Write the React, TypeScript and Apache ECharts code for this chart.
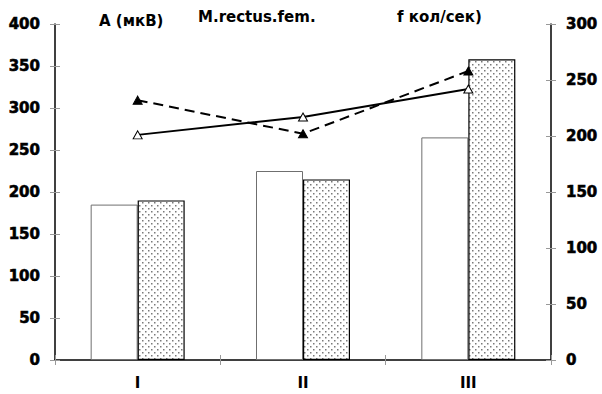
import React, { useEffect, useRef } from "react";
import * as echarts from "echarts";

// Categories and measured values
const categories = ["I", "II", "III"];
const amplitudeOpen = [185, 225, 265]; // A (мкВ), plain bars
const amplitudeDotted = [190, 215, 358]; // A (мкВ), dotted bars
const frequencySolid = [201, 217, 242]; // f кол/сек, solid line
const frequencyDashed = [232, 202, 258]; // f кол/сек, dashed line

// Axis ranges
const leftAxisRange = [0, 400];
const leftAxisStep = 50;
const rightAxisRange = [0, 300];
const rightAxisStep = 50;

// Header texts
const titleLeft = "A (мкВ)";
const titleMiddle = "M.rectus.fem.";
const titleRight = "f кол/сек)";

const FONT = "DejaVu Sans";

function makeDotPattern(): HTMLCanvasElement {
  const c = document.createElement("canvas");
  c.width = 6;
  c.height = 6;
  const ctx = c.getContext("2d")!;
  ctx.fillStyle = "#ffffff";
  ctx.fillRect(0, 0, 6, 6);
  ctx.fillStyle = "#7a7a7a";
  ctx.fillRect(1, 1, 1.5, 1.5);
  ctx.fillRect(4, 4, 1.5, 1.5);
  return c;
}

export default function App() {
  const ref = useRef<HTMLDivElement>(null);

  useEffect(() => {
    if (!ref.current) return;
    const chart = echarts.init(ref.current, undefined, { renderer: "svg" });
    const dots = makeDotPattern();

    const labelStyle = {
      fontFamily: FONT,
      fontWeight: "bold" as const,
      fontSize: 15,
      color: "#000",
    };
    const tickStyle = { color: "#999", width: 1 };

    const valueAxis = (
      position: "left" | "right",
      range: number[],
      step: number,
      inside: boolean
    ) => ({
      type: "value" as const,
      position,
      min: range[0],
      max: range[1],
      interval: step,
      splitLine: { show: false },
      axisLine: { show: !inside, lineStyle: { color: "#000", width: 1.5 } },
      axisTick: { show: true, inside, length: 5, lineStyle: tickStyle },
      axisLabel: {
        show: !inside,
        margin: 15,
        ...labelStyle,
        textBorderColor: "#000",
        textBorderWidth: 0.6,
      },
    });

    chart.setOption({
      animation: false,
      backgroundColor: "#fff",
      textStyle: { fontFamily: FONT, fontWeight: "bold" },
      grid: { left: 55, right: 51, top: 24, bottom: 34, containLabel: false },
      xAxis: [
        {
          type: "category",
          data: categories,
          position: "bottom",
          axisLine: { show: true, lineStyle: { color: "#000", width: 1.5 } },
          axisTick: { show: true, inside: false, length: 5, lineStyle: tickStyle },
          axisLabel: { margin: 15, ...labelStyle },
          splitLine: { show: false },
        },
        {
          type: "category",
          data: categories,
          position: "bottom",
          axisLine: { show: false },
          axisTick: { show: true, inside: true, length: 5, lineStyle: tickStyle },
          axisLabel: { show: false },
          splitLine: { show: false },
        },
      ],
      yAxis: [
        valueAxis("left", leftAxisRange, leftAxisStep, false),
        valueAxis("right", rightAxisRange, rightAxisStep, false),
        valueAxis("left", leftAxisRange, leftAxisStep, true),
        valueAxis("right", rightAxisRange, rightAxisStep, true),
      ],
      series: [
        {
          type: "bar",
          data: amplitudeOpen,
          yAxisIndex: 0,
          barWidth: 47,
          barGap: "0%",
          itemStyle: { color: "#fff", borderColor: "#6f6f6f", borderWidth: 1 },
          z: 2,
        },
        {
          type: "bar",
          data: amplitudeDotted,
          yAxisIndex: 0,
          barWidth: 47,
          barGap: "0%",
          itemStyle: {
            color: { image: dots, repeat: "repeat", imageWidth: 6, imageHeight: 6 } as any,
            borderColor: "#000",
            borderWidth: 1.2,
          },
          z: 3,
        },
        {
          type: "line",
          data: frequencySolid,
          yAxisIndex: 1,
          symbol: "triangle",
          symbolSize: [9, 8],
          showAllSymbol: true,
          lineStyle: { color: "#000", width: 2, type: "solid" },
          itemStyle: { color: "#fff", borderColor: "#000", borderWidth: 1 },
          z: 5,
        },
        {
          type: "line",
          data: frequencyDashed,
          yAxisIndex: 1,
          symbol: "triangle",
          symbolSize: [9, 8],
          showAllSymbol: true,
          lineStyle: { color: "#000", width: 2, type: [10, 6] },
          itemStyle: { color: "#000", borderColor: "#000", borderWidth: 1 },
          z: 5,
        },
      ],
      graphic: [
        {
          type: "text",
          left: 99,
          top: 13,
          style: { text: titleLeft, font: `bold 15px "${FONT}"`, fill: "#000" },
        },
        {
          type: "text",
          left: 198,
          top: 9,
          style: { text: titleMiddle, font: `bold 15px "${FONT}"`, fill: "#000" },
        },
        {
          type: "text",
          left: 397,
          top: 9,
          style: { text: titleRight, font: `bold 15px "${FONT}"`, fill: "#000" },
        },
      ],
    });

    return () => chart.dispose();
  }, []);

  return (
    <div
      ref={ref}
      style={{ position: "absolute", left: 0, top: 0, width: 602, height: 394 }}
    />
  );
}
